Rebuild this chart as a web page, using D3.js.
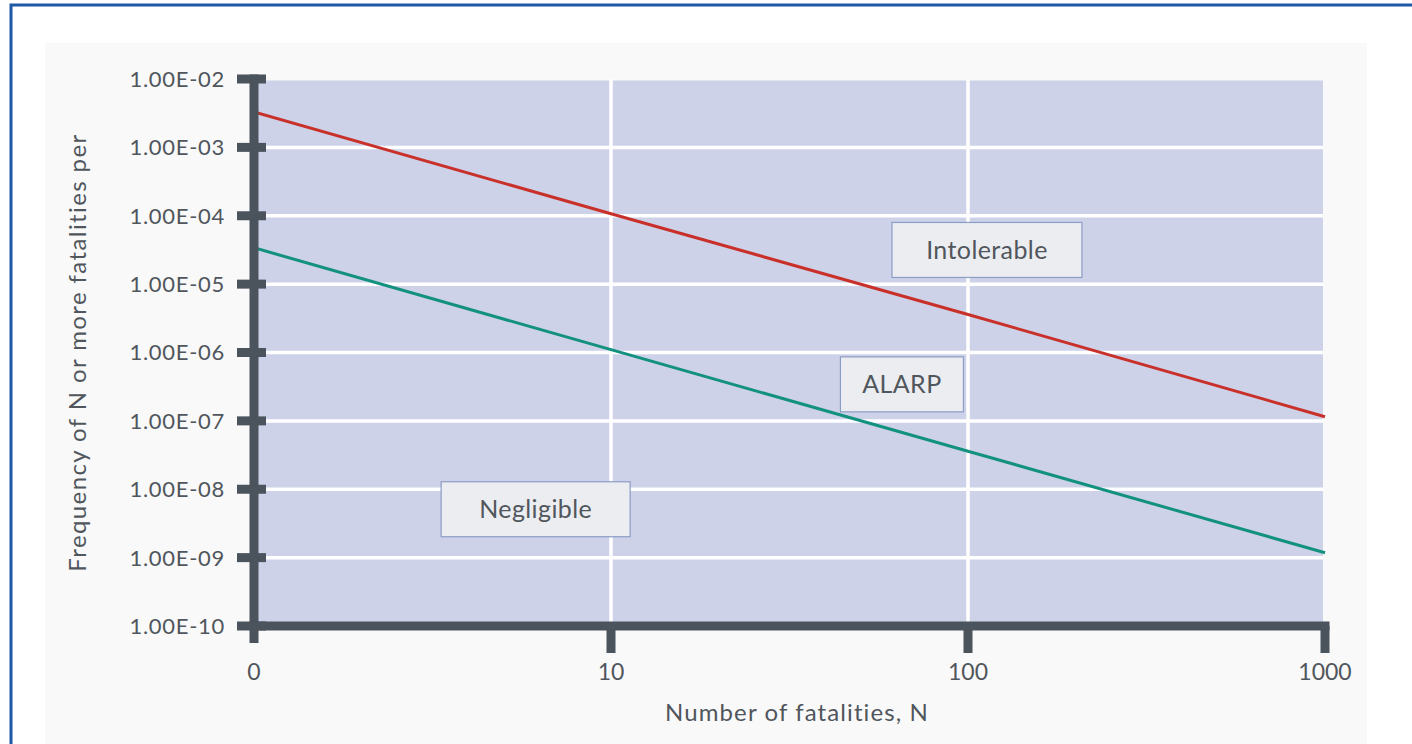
<!DOCTYPE html>
<html>
<head>
<meta charset="utf-8">
<script src="https://cdn.jsdelivr.net/npm/d3@7"></script>
<style>
	html, body { margin: 0; padding: 0; background: #fff; }
	svg { display: block; font-family: "Gill Sans", Lato, "Open Sans", sans-serif; }
</style>
</head>
<body>
<svg id="fn" width="1412" height="744"></svg>
<script>
"use strict";

// les données du graphe F-N
var nTicks = [1, 10, 100, 1000];
var nLabels = ["0", "10", "100", "1000"];
var fTicks = [1e-2, 1e-3, 1e-4, 1e-5, 1e-6, 1e-7, 1e-8, 1e-9, 1e-10];
var fLabels = ["1.00E-02", "1.00E-03", "1.00E-04", "1.00E-05", "1.00E-06",
	"1.00E-07", "1.00E-08", "1.00E-09", "1.00E-10"];
var intolerable = [[1, 3.3e-3], [10, 1.07e-4], [100, 3.6e-6], [1000, 1.15e-7]];
var negligible = [[1, 3.4e-5], [10, 1.1e-6], [100, 3.6e-8], [1000, 1.18e-9]];
var zones = [
	{ texte: "Intolerable", n: 113, f: 3.16e-5 },
	{ texte: "ALARP", n: 65.3, f: 3.42e-7 },
	{ texte: "Negligible", n: 6.15, f: 5.1e-9 }
];

// styles
var couleurs = { axe: "#4b535c", texte: "#50565c", fond: "#cdd2e8",
	rouge: "#c9302a", vert: "#13917f", cadre: "#1d57a5" };
var largeurs = { Intolerable: 190, ALARP: 123, Negligible: 189 };

var svg = d3.select("#fn");

// cadre bleu et panneau
svg.append("rect")
	.attr("x", 11).attr("y", 5)
	.attr("width", 1500).attr("height", 900)
	.attr("fill", "#fff")
	.attr("stroke", couleurs.cadre)
	.attr("stroke-width", 3);
svg.append("rect")
	.attr("x", 45).attr("y", 43)
	.attr("width", 1322).attr("height", 760)
	.attr("fill", "#f9f9fa");

var x = d3.scaleLog().domain([1, 1000]).range([254, 1325]);
var y = d3.scaleLog().domain([1e-10, 1e-2]).range([626, 79]);

// fond du graphe
svg.append("rect")
	.attr("x", x(1))
	.attr("y", y(1e-2) + 1.5)
	.attr("width", x(1000) - x(1) - 2)
	.attr("height", y(1e-10) - y(1e-2))
	.attr("fill", couleurs.fond);

// grilles
var grilles = svg.append("g").attr("class", "grilles")
	.attr("stroke", "#fff").attr("stroke-width", 3.5);
grilles.selectAll(".gy")
	.data(fTicks.slice(1, -1))
	.enter().append("line")
		.attr("x1", x(1)).attr("x2", x(1000) - 2)
		.attr("y1", d => y(d)).attr("y2", d => y(d));
grilles.selectAll(".gx")
	.data(nTicks.slice(1, -1))
	.enter().append("line")
		.attr("x1", d => x(d)).attr("x2", d => x(d))
		.attr("y1", y(1e-2)).attr("y2", y(1e-10));

// courbes
var trace = d3.line()
	.x(d => x(d[0]))
	.y(d => y(d[1]));
[[intolerable, couleurs.rouge], [negligible, couleurs.vert]].forEach(function (c) {
	svg.append("path")
		.datum(c[0])
		.attr("d", trace)
		.attr("fill", "none")
		.attr("stroke", c[1])
		.attr("stroke-width", 3);
});

// étiquettes des zones
var etiquettes = svg.append("g").selectAll("g")
	.data(zones)
	.enter().append("g")
		.attr("transform", d => "translate(" + x(d.n) + "," + y(d.f) + ")");
etiquettes.append("rect")
	.attr("x", d => -largeurs[d.texte] / 2)
	.attr("y", -27.5)
	.attr("width", d => largeurs[d.texte])
	.attr("height", 55)
	.attr("fill", "#ebedf1")
	.attr("stroke", "#8d9cc6")
	.attr("stroke-width", 1.2);
etiquettes.append("text")
	.attr("text-anchor", "middle")
	.attr("dy", "0.36em")
	.attr("font-size", 25)
	.attr("letter-spacing", 0.4)
	.attr("fill", couleurs.texte)
	.text(d => d.texte);

// axes
var axes = svg.append("g").attr("class", "axes")
	.attr("stroke", couleurs.axe).attr("stroke-width", 9);
axes.append("line")
	.attr("x1", x(1)).attr("x2", x(1))
	.attr("y1", y(1e-2) - 4.5).attr("y2", y(1e-10) + 17);
axes.append("line")
	.attr("x1", x(1) - 4.5).attr("x2", x(1000) + 4.5)
	.attr("y1", y(1e-10)).attr("y2", y(1e-10));
axes.selectAll(".ty")
	.data(fTicks)
	.enter().append("line")
		.attr("x1", x(1) - 17).attr("x2", x(1) + 12)
		.attr("y1", d => y(d)).attr("y2", d => y(d));
axes.selectAll(".tx")
	.data(nTicks.slice(1))
	.enter().append("line")
		.attr("x1", d => x(d)).attr("x2", d => x(d))
		.attr("y1", y(1e-10)).attr("y2", y(1e-10) + 27);

// libellés des graduations
svg.append("g").selectAll("text")
	.data(fTicks)
	.enter().append("text")
		.attr("x", 225)
		.attr("y", d => y(d))
		.attr("dy", "0.36em")
		.attr("text-anchor", "end")
		.attr("font-size", 22)
		.attr("letter-spacing", 0.7)
		.attr("fill", couleurs.texte)
		.text((d, i) => fLabels[i]);
svg.append("g").selectAll("text")
	.data(nTicks)
	.enter().append("text")
		.attr("x", d => x(d))
		.attr("y", 680)
		.attr("text-anchor", "middle")
		.attr("font-size", 23)
		.attr("fill", couleurs.texte)
		.text((d, i) => nLabels[i]);

// titres des axes
svg.append("text")
	.attr("x", 797)
	.attr("y", 721)
	.attr("text-anchor", "middle")
	.attr("font-size", 24)
	.attr("letter-spacing", 1.1)
	.attr("fill", couleurs.texte)
	.text("Number of fatalities, N");
svg.append("text")
	.attr("transform", "translate(86," + (y(1e-6)) + ") rotate(-90)")
	.attr("text-anchor", "middle")
	.attr("font-size", 24)
	.attr("letter-spacing", 1.4)
	.attr("fill", couleurs.texte)
	.text("Frequency of N or more fatalities per");
</script>
</body>
</html>
